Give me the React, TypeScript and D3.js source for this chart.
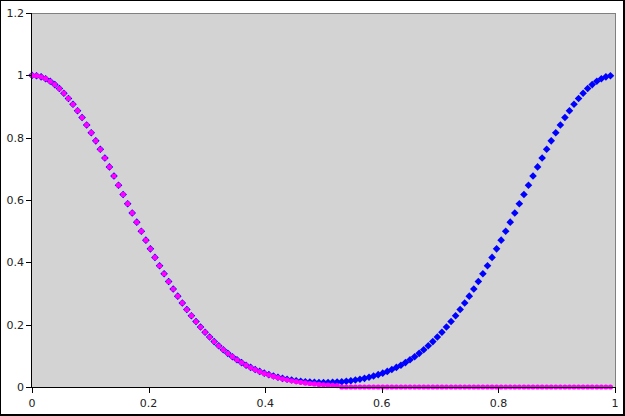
import React from "react";
import * as d3 from "d3";

const xValues = [
  0, 0.0078, 0.0156, 0.0234, 0.0313, 0.0391, 0.0469, 0.0547, 0.0625, 0.0703,
  0.0781, 0.0859, 0.0938, 0.1016, 0.1094, 0.1172, 0.125, 0.1328, 0.1406, 0.1484,
  0.1563, 0.1641, 0.1719, 0.1797, 0.1875, 0.1953, 0.2031, 0.2109, 0.2188, 0.2266,
  0.2344, 0.2422, 0.25, 0.2578, 0.2656, 0.2734, 0.2813, 0.2891, 0.2969, 0.3047,
  0.3125, 0.3203, 0.3281, 0.3359, 0.3438, 0.3516, 0.3594, 0.3672, 0.375, 0.3828,
  0.3906, 0.3984, 0.4063, 0.4141, 0.4219, 0.4297, 0.4375, 0.4453, 0.4531, 0.4609,
  0.4688, 0.4766, 0.4844, 0.4922, 0.5, 0.5078, 0.5156, 0.5234, 0.5313, 0.5391,
  0.5469, 0.5547, 0.5625, 0.5703, 0.5781, 0.5859, 0.5938, 0.6016, 0.6094, 0.6172,
  0.625, 0.6328, 0.6406, 0.6484, 0.6563, 0.6641, 0.6719, 0.6797, 0.6875, 0.6953,
  0.7031, 0.7109, 0.7188, 0.7266, 0.7344, 0.7422, 0.75, 0.7578, 0.7656, 0.7734,
  0.7813, 0.7891, 0.7969, 0.8047, 0.8125, 0.8203, 0.8281, 0.8359, 0.8438, 0.8516,
  0.8594, 0.8672, 0.875, 0.8828, 0.8906, 0.8984, 0.9063, 0.9141, 0.9219, 0.9297,
  0.9375, 0.9453, 0.9531, 0.9609, 0.9688, 0.9766, 0.9844, 0.9922,
];

const blueValues = [
  1.0, 0.9988, 0.9952, 0.9892, 0.9809, 0.9703, 0.9576, 0.9427, 0.9259, 0.9071,
  0.8866, 0.8645, 0.8408, 0.8159, 0.7898, 0.7627, 0.7348, 0.7062, 0.677, 0.6475,
  0.6178, 0.5881, 0.5584, 0.529, 0.4999, 0.4712, 0.4432, 0.4158, 0.3891, 0.3633,
  0.3385, 0.3145, 0.2915, 0.2696, 0.2487, 0.2288, 0.2101, 0.1924, 0.1758, 0.1603,
  0.1457, 0.1322, 0.1196, 0.108, 0.0972, 0.0874, 0.0783, 0.07, 0.0629, 0.0561,
  0.05, 0.0445, 0.0396, 0.0351, 0.0313, 0.0278, 0.0248, 0.0223, 0.0201, 0.0183,
  0.0169, 0.0158, 0.0151, 0.0146, 0.0144, 0.0146, 0.0151, 0.0158, 0.0169, 0.0183,
  0.0201, 0.0223, 0.0248, 0.0278, 0.0313, 0.0351, 0.0396, 0.0445, 0.05, 0.0561,
  0.0629, 0.07, 0.0783, 0.0874, 0.0972, 0.108, 0.1196, 0.1322, 0.1457, 0.1603,
  0.1758, 0.1924, 0.2101, 0.2288, 0.2487, 0.2696, 0.2915, 0.3145, 0.3385, 0.3633,
  0.3891, 0.4158, 0.4432, 0.4712, 0.4999, 0.529, 0.5584, 0.5881, 0.6178, 0.6475,
  0.677, 0.7062, 0.7348, 0.7627, 0.7898, 0.8159, 0.8408, 0.8645, 0.8866, 0.9071,
  0.9259, 0.9427, 0.9576, 0.9703, 0.9809, 0.9892, 0.9952, 0.9988,
];

const magentaValues = [
  1.0, 0.9988, 0.9952, 0.9892, 0.9809, 0.9703, 0.9576, 0.9427, 0.9259, 0.9071,
  0.8866, 0.8645, 0.8408, 0.8159, 0.7898, 0.7627, 0.7348, 0.7062, 0.677, 0.6475,
  0.6178, 0.5881, 0.5584, 0.529, 0.4999, 0.4712, 0.4432, 0.4158, 0.3891, 0.3633,
  0.3385, 0.3145, 0.2915, 0.2696, 0.2487, 0.2288, 0.2101, 0.1924, 0.1758, 0.1603,
  0.1457, 0.1322, 0.1196, 0.108, 0.0972, 0.0874, 0.0783, 0.07, 0.0624, 0.0556,
  0.0493, 0.0437, 0.0386, 0.034, 0.0299, 0.0262, 0.0229, 0.02, 0.0174, 0.0151,
  0.0131, 0.0113, 0.0098, 0.0084, 0.0072, 0.0062, 0.0053, 0.0045, 0, 0,
  0, 0, 0, 0, 0, 0, 0, 0, 0, 0,
  0, 0, 0, 0, 0, 0, 0, 0, 0, 0,
  0, 0, 0, 0, 0, 0, 0, 0, 0, 0,
  0, 0, 0, 0, 0, 0, 0, 0, 0, 0,
  0, 0, 0, 0, 0, 0, 0, 0, 0, 0,
  0, 0, 0, 0, 0, 0, 0, 0,
];

const xTicks = [0, 0.2, 0.4, 0.6, 0.8, 1];
const xTickLabels = ["0", "0.2", "0.4", "0.6", "0.8", "1"];
const yTicks = [0, 0.2, 0.4, 0.6, 0.8, 1, 1.2];
const yTickLabels = ["0", "0.2", "0.4", "0.6", "0.8", "1", "1.2"];

const W = 625;
const H = 416;
const M = { left: 32, right: 10, top: 13, bottom: 29 };

export default function App() {
  const x = d3.scaleLinear().domain([0, 1]).range([M.left, W - M.right]);
  const y = d3.scaleLinear().domain([0, 1.2]).range([H - M.bottom, M.top]);
  const x0 = x(0), x1 = x(1), y0 = y(0), y1 = y(1.2);
  const font = "'DejaVu Sans', sans-serif";
  const d = 3.8;
  const diamond = (cx: number, cy: number) =>
    `M${cx},${cy - d}L${cx + d},${cy}L${cx},${cy + d}L${cx - d},${cy}Z`;

  return (
    <svg
      width={W}
      height={H}
      style={{ position: "absolute", left: 0, top: 0, background: "#fff" }}
    >
      <rect x={x0} y={y1} width={x1 - x0} height={y0 - y1} fill="#d3d3d3" />
      <line x1={x0} x2={x1} y1={y1 + 0.5} y2={y1 + 0.5} stroke="#808080" />
      <line x1={x1 + 0.5} x2={x1 + 0.5} y1={y1} y2={y0} stroke="#808080" />
      <g>
        {xValues.map((xv, i) => (
          <path key={"b" + i} d={diamond(x(xv), y(blueValues[i]))} fill="#0000ff" />
        ))}
      </g>
      <g>
        {xValues.map((xv, i) => (
          <circle key={"m" + i} cx={x(xv)} cy={y(magentaValues[i])} r={2.6} fill="#ff00ff" />
        ))}
      </g>
      <line x1={x0 - 0.5} x2={x0 - 0.5} y1={y1} y2={y0 + 1} stroke="#000" />
      <line x1={x0 - 0.5} x2={x1 + 1} y1={y0 + 0.5} y2={y0 + 0.5} stroke="#000" />
      {yTicks.map((t, i) => (
        <g key={"yt" + i}>
          <line x1={x0 - 6} x2={x0} y1={Math.round(y(t)) + 0.5} y2={Math.round(y(t)) + 0.5} stroke="#000" />
          <text
            x={x0 - 8}
            y={y(t)}
            dy="0.35em"
            textAnchor="end"
            fontFamily={font}
            fontSize={11}
            fill="#222"
          >
            {yTickLabels[i]}
          </text>
        </g>
      ))}
      {xTicks.map((t, i) => (
        <g key={"xt" + i}>
          <line x1={Math.round(x(t)) + 0.5} x2={Math.round(x(t)) + 0.5} y1={y0} y2={y0 + 6} stroke="#000" />
          <text
            x={x(t)}
            y={y0 + 20}
            textAnchor="middle"
            fontFamily={font}
            fontSize={11}
            fill="#222"
          >
            {xTickLabels[i]}
          </text>
        </g>
      ))}
      <line x1={0.5} x2={0.5} y1={0} y2={H} stroke="#000" />
      <line x1={0} x2={W} y1={0.5} y2={0.5} stroke="#000" />
      <line x1={W - 1} x2={W - 1} y1={0} y2={H} stroke="#000" strokeWidth={2} />
      <line x1={0} x2={W} y1={H - 1} y2={H - 1} stroke="#000" strokeWidth={2} />
    </svg>
  );
}
